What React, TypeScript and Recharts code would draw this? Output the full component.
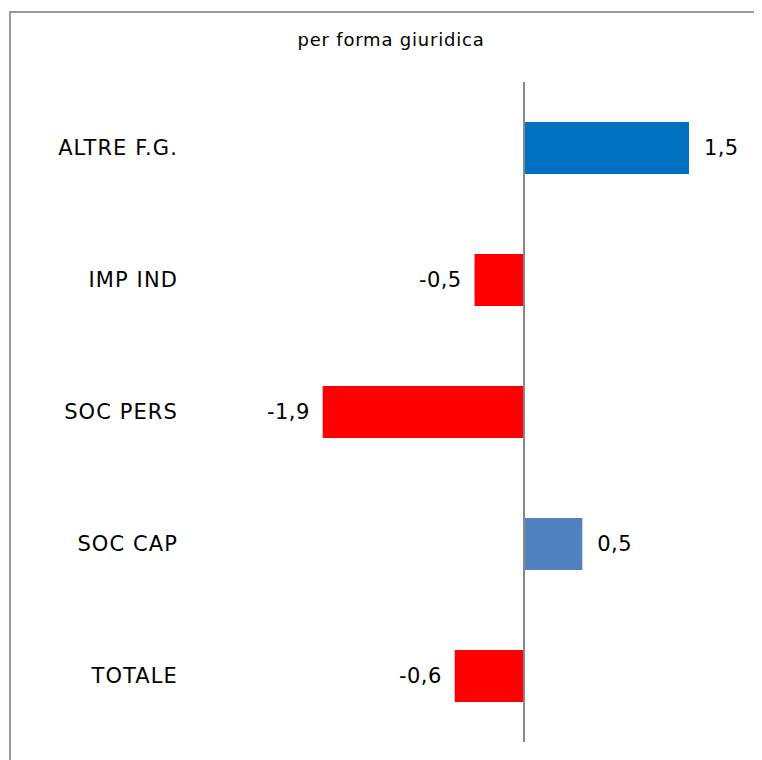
import { BarChart, Bar, XAxis, YAxis, Cell, LabelList, ReferenceLine } from 'recharts';

const categories = ['ALTRE F.G.', 'IMP IND', 'SOC PERS', 'SOC CAP', 'TOTALE'];
const values = [1.5, -0.45, -1.83, 0.53, -0.63];
const valueLabels = ['1,5', '-0,5', '-1,9', '0,5', '-0,6'];

const data = categories.map((name, i) => ({ name, value: values[i], label: valueLabels[i] }));

const barColor = (name: string, value: number) => {
    if (value < 0) return '#FF0000';
    return name === 'SOC CAP' ? '#4F81BD' : '#0070C0';
};

interface ValueLabelProps {
    x?: number;
    y?: number;
    width?: number;
    height?: number;
    index?: number;
}

function ValueLabel({ x = 0, y = 0, width = 0, height = 0, index = 0 }: ValueLabelProps) {
    const v = values[index];
    const left = Math.min(x, x + width);
    const right = Math.max(x, x + width);
    const tx = v < 0 ? left - 13 : right + 15;
    return (
        <text
            x={tx}
            y={y + height / 2}
            textAnchor={v < 0 ? 'end' : 'start'}
            dominantBaseline="central"
            fontFamily="DejaVu Sans, Verdana, sans-serif"
            fontSize={21}
            letterSpacing={0.4}
            fill="#000"
        >
            {valueLabels[index]}
        </text>
    );
}

export default function App() {
    return (
        <div style={{ position: 'relative', width: 754, height: 752, overflow: 'hidden', background: '#fff' }}>
            <div
                style={{
                    position: 'absolute',
                    left: 1,
                    top: 3,
                    width: 900,
                    height: 900,
                    borderTop: '2px solid #9a9a9a',
                    borderLeft: '2px solid #9a9a9a',
                }}
            />
            <div
                style={{
                    position: 'absolute',
                    left: 0,
                    width: 766,
                    top: 21,
                    textAlign: 'center',
                    fontFamily: 'DejaVu Sans, Verdana, sans-serif',
                    fontSize: 18,
                    letterSpacing: 0.8,
                    color: '#000',
                }}
            >
                per forma giuridica
            </div>
            <BarChart
                width={754}
                height={752}
                data={data}
                layout="vertical"
                margin={{ top: 74, right: 18, bottom: 18, left: 0 }}
                barSize={52}
                style={{ position: 'absolute', left: 0, top: 0 }}
            >
                <XAxis type="number" domain={[-3, 2]} hide />
                <YAxis
                    type="category"
                    dataKey="name"
                    width={186}
                    axisLine={false}
                    tickLine={false}
                    tickMargin={10}
                    tick={{ fill: '#000', fontSize: 21, letterSpacing: 1.1, fontFamily: 'DejaVu Sans, Verdana, sans-serif' }}
                />
                <Bar dataKey="value" isAnimationActive={false}>
                    {data.map((d) => (
                        <Cell key={d.name} fill={barColor(d.name, d.value)} />
                    ))}
                    <LabelList dataKey="value" content={<ValueLabel />} />
                </Bar>
                <ReferenceLine x={0} stroke="#888888" strokeWidth={2} />
            </BarChart>
        </div>
    );
}
